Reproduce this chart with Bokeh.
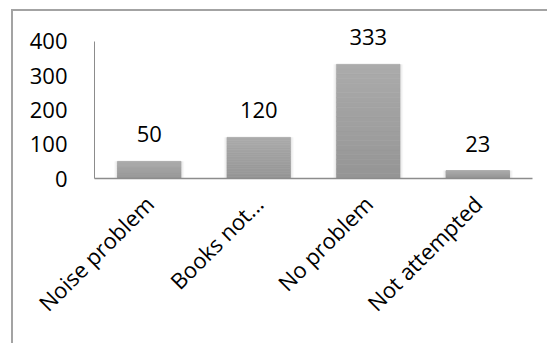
from bokeh.plotting import figure
from bokeh.models import Range1d, FactorRange, ColumnDataSource, LabelSet
from bokeh.core.properties import value
from bokeh.embed import file_html
from bokeh.resources import INLINE

categories = ["Noise problem", "Books not...", "No problem", "Not attempted"]
counts = [50, 120, 333, 23]
y_ticks = [0, 100, 200, 300, 400]

FONT = "Open Sans"
BAR_W = 0.58
AXIS_MAX = 400

# the page keeps a framed chart area starting 11px in and 9px down
OFF_L, OFF_T, EDGE = 11, 9, 2

p = figure(
    x_range=FactorRange(*categories, range_padding=0),
    y_range=Range1d(0, 487),
    width=549 - OFF_L - EDGE, height=345 - OFF_T - EDGE,
    min_border_left=94 - OFF_L - EDGE, min_border_right=17,
    min_border_top=10 - OFF_T - EDGE + 1, min_border_bottom=167,
    margin=(OFF_T, 0, 0, OFF_L),
    output_backend="svg", toolbar_location=None,
)
p.styles = {"border-left": f"{EDGE}px solid #a3a3a3",
            "border-top": f"{EDGE}px solid #a3a3a3"}
p.outline_line_color = None
p.xgrid.grid_line_color = None
p.ygrid.grid_line_color = None
p.background_fill_color = "white"
p.border_fill_color = "white"

# soft shadow around each bar
for grow, alpha in [(0.06, 0.05), (0.04, 0.07), (0.02, 0.09)]:
    p.vbar(x=categories, top=counts, bottom=0, width=BAR_W + grow,
           fill_color="#808080", fill_alpha=alpha, line_color=None)

# vertical gradient: lighter at the top, darker at the base
N = 24
top_rgb = (0xab, 0xab, 0xab)
bot_rgb = (0x95, 0x95, 0x95)
for k in range(N):
    t = (k + 0.5) / N
    c = tuple(int(round(bot_rgb[i] + (top_rgb[i] - bot_rgb[i]) * t)) for i in range(3))
    col = "#%02x%02x%02x" % c
    p.vbar(x=categories,
           bottom=[v * k / N for v in counts],
           top=[v * (k + 1) / N for v in counts],
           width=BAR_W, fill_color=col, line_color=col, line_width=0.6)

src = ColumnDataSource(dict(x=categories, y=counts, lab=[str(v) for v in counts]))
p.add_layout(LabelSet(x="x", y="y", text="lab", source=src,
                      text_align="center", text_baseline="bottom",
                      y_offset=19, text_font=value(FONT), text_font_size="22px",
                      text_color="black"))

ax = p.xaxis[0]
ax.axis_line_color = "#8c8c8c"
ax.axis_line_width = 1.5
ax.major_tick_line_color = None
ax.minor_tick_line_color = None
ax.major_label_orientation = 0.785398
ax.major_label_standoff = 15
ax.major_label_text_font = FONT
ax.major_label_text_font_size = "22px"
ax.major_label_text_color = "black"

ay = p.yaxis[0]
ay.ticker = y_ticks
ay.bounds = (0, AXIS_MAX)
ay.axis_line_color = "#8c8c8c"
ay.axis_line_width = 1
ay.major_tick_line_color = None
ay.minor_tick_line_color = None
ay.major_label_standoff = 21
ay.major_label_text_font = FONT
ay.major_label_text_font_size = "22px"
ay.major_label_text_color = "black"

open("out.html", "w").write(file_html(p, INLINE))
